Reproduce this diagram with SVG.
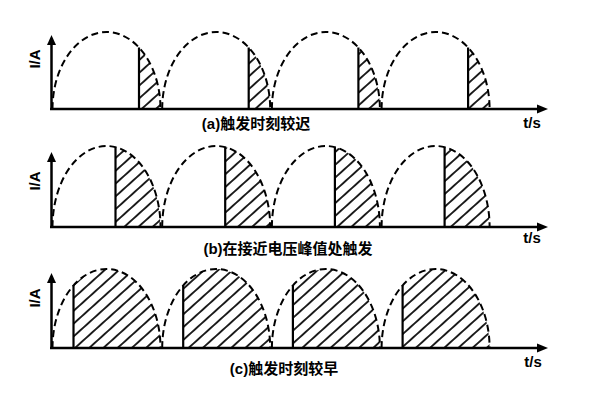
<svg xmlns="http://www.w3.org/2000/svg" width="600" height="400" viewBox="0 0 600 400">
<style>
.ax{stroke:#000;stroke-width:2.5;fill:none}
.arr{fill:#000}
.dash{stroke:#000;stroke-width:2;fill:none;stroke-dasharray:7 4}
.fire{stroke:#000;stroke-width:2.2;fill:none}
.hat{fill:url(#hatch);stroke:none}
.cap{font-family:"Liberation Sans","Noto Sans CJK SC",sans-serif;font-weight:bold;font-size:15px;fill:#000;text-anchor:middle}
</style>
<defs>
<pattern id="hatch" patternUnits="userSpaceOnUse" width="10" height="9.5" patternTransform="rotate(-42)">
<line x1="-1" y1="4.75" x2="11" y2="4.75" stroke="#000" stroke-width="1.7"/>
</pattern>
</defs>
<rect width="600" height="400" fill="#fff"/>

<g id="panel-a">
<path class="hat" d="M139,109 L139,47.5 A54,77 0 0 1 160.5,109 Z"/>
<path class="hat" d="M248.7,109 L248.7,47.5 A54,77 0 0 1 270.2,109 Z"/>
<path class="hat" d="M358.4,109 L358.4,47.5 A54,77 0 0 1 379.9,109 Z"/>
<path class="hat" d="M468.1,109 L468.1,47.5 A54,77 0 0 1 489.6,109 Z"/>
<path class="dash" d="M52.5,109 A54,77 0 0 1 160.5,109"/>
<path class="dash" d="M162.2,109 A54,77 0 0 1 270.2,109"/>
<path class="dash" d="M271.9,109 A54,77 0 0 1 379.9,109"/>
<path class="dash" d="M381.6,109 A54,77 0 0 1 489.6,109"/>
<line class="fire" x1="139" y1="109" x2="139" y2="47.5"/>
<line class="fire" x1="248.7" y1="109" x2="248.7" y2="47.5"/>
<line class="fire" x1="358.4" y1="109" x2="358.4" y2="47.5"/>
<line class="fire" x1="468.1" y1="109" x2="468.1" y2="47.5"/>
<line class="ax" x1="51.5" y1="110" x2="51.5" y2="44"/>
<polygon class="arr" points="51.5,35 47,45 56,45"/>
<line class="ax" x1="50" y1="109" x2="538" y2="109"/>
<polygon class="arr" points="548,109 537,104.5 537,113.5"/>
<text class="cap" transform="translate(40,59) rotate(-90)">I/A</text>
<text class="cap" x="532" y="128">t/s</text>
<text class="cap" x="256" y="129">(a)触发时刻较迟</text>
</g>

<g id="panel-b">
<path class="hat" d="M115.5,227 L115.5,147.1 A54,81 0 0 1 160.5,227 Z"/>
<path class="hat" d="M225.2,227 L225.2,147.1 A54,81 0 0 1 270.2,227 Z"/>
<path class="hat" d="M334.9,227 L334.9,147.1 A54,81 0 0 1 379.9,227 Z"/>
<path class="hat" d="M444.6,227 L444.6,147.1 A54,81 0 0 1 489.6,227 Z"/>
<path class="dash" d="M52.5,227 A54,81 0 0 1 160.5,227"/>
<path class="dash" d="M162.2,227 A54,81 0 0 1 270.2,227"/>
<path class="dash" d="M271.9,227 A54,81 0 0 1 379.9,227"/>
<path class="dash" d="M381.6,227 A54,81 0 0 1 489.6,227"/>
<line class="fire" x1="115.5" y1="227" x2="115.5" y2="147.1"/>
<line class="fire" x1="225.2" y1="227" x2="225.2" y2="147.1"/>
<line class="fire" x1="334.9" y1="227" x2="334.9" y2="147.1"/>
<line class="fire" x1="444.6" y1="227" x2="444.6" y2="147.1"/>
<line class="ax" x1="51.5" y1="228" x2="51.5" y2="161"/>
<polygon class="arr" points="51.5,152 47,162 56,162"/>
<line class="ax" x1="50" y1="227" x2="538" y2="227"/>
<polygon class="arr" points="548,227 537,222.5 537,231.5"/>
<text class="cap" transform="translate(40,181) rotate(-90)">I/A</text>
<text class="cap" x="532" y="243">t/s</text>
<text class="cap" x="288" y="254">(b)在接近电压峰值处触发</text>
</g>

<g id="panel-c">
<path class="hat" d="M73.5,348 L73.5,285.5 A54,79 0 0 1 160.5,348 Z"/>
<path class="hat" d="M183.2,348 L183.2,285.5 A54,79 0 0 1 270.2,348 Z"/>
<path class="hat" d="M292.9,348 L292.9,285.5 A54,79 0 0 1 379.9,348 Z"/>
<path class="hat" d="M402.6,348 L402.6,285.5 A54,79 0 0 1 489.6,348 Z"/>
<path class="dash" d="M52.5,348 A54,79 0 0 1 160.5,348"/>
<path class="dash" d="M162.2,348 A54,79 0 0 1 270.2,348"/>
<path class="dash" d="M271.9,348 A54,79 0 0 1 379.9,348"/>
<path class="dash" d="M381.6,348 A54,79 0 0 1 489.6,348"/>
<line class="fire" x1="73.5" y1="348" x2="73.5" y2="285.5"/>
<line class="fire" x1="183.2" y1="348" x2="183.2" y2="285.5"/>
<line class="fire" x1="292.9" y1="348" x2="292.9" y2="285.5"/>
<line class="fire" x1="402.6" y1="348" x2="402.6" y2="285.5"/>
<line class="ax" x1="51.5" y1="349" x2="51.5" y2="282"/>
<polygon class="arr" points="51.5,273 47,283 56,283"/>
<line class="ax" x1="50" y1="348" x2="538" y2="348"/>
<polygon class="arr" points="548,348 537,343.5 537,352.5"/>
<text class="cap" transform="translate(40,298) rotate(-90)">I/A</text>
<text class="cap" x="533" y="367">t/s</text>
<text class="cap" x="284" y="374">(c)触发时刻较早</text>
</g>
</svg>
